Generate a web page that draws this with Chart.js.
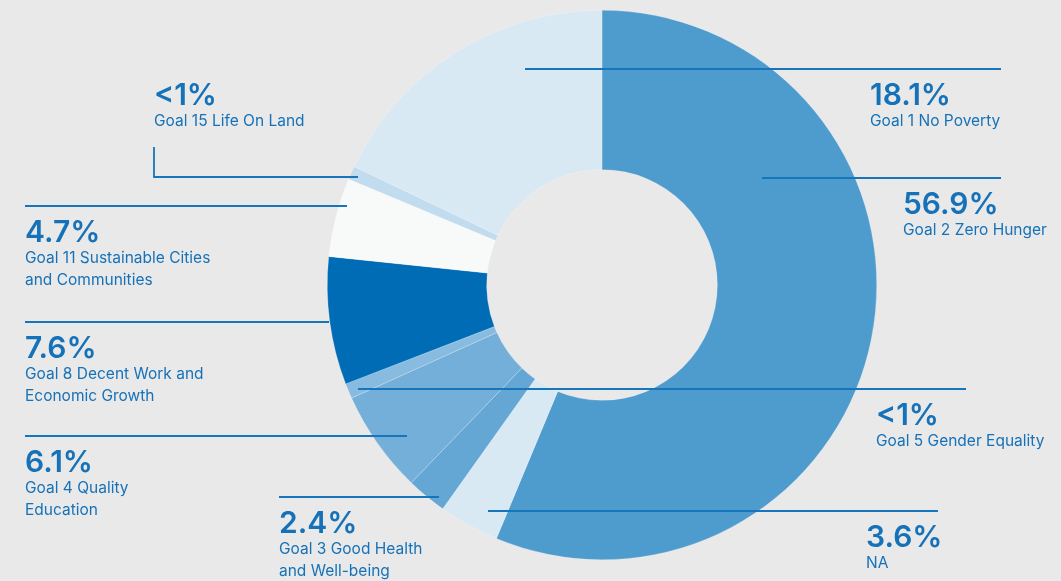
<!DOCTYPE html>
<html>
<head>
<meta charset="utf-8">
<script src="https://cdn.jsdelivr.net/npm/chart.js@4"></script>
<style>
  html, body { margin: 0; padding: 0; background: #e9e9e9; }
  #wrap { width: 1061px; height: 581px; position: relative; }
</style>
</head>
<body>
<div id="wrap"><canvas id="myChart"></canvas></div>
<script>
// data, clockwise from 12 o'clock
const categories = ['Goal 2', 'NA', 'Goal 3', 'Goal 4', 'Goal 5', 'Goal 8', 'Goal 11', 'Goal 15', 'Goal 1'];
const shares = [56.9, 3.6, 2.4, 6.1, 0.9, 7.6, 4.7, 0.8, 18.1];
const shareLabels = ['56.9%', '3.6%', '2.4%', '6.1%', '<1%', '7.6%', '4.7%', '<1%', '18.1%'];
const nameLines = [
  ['Goal 2 Zero Hunger'],
  ['NA'],
  ['Goal 3 Good Health', 'and Well-being'],
  ['Goal 4 Quality', 'Education'],
  ['Goal 5 Gender Equality'],
  ['Goal 8 Decent Work and', 'Economic Growth'],
  ['Goal 11 Sustainable Cities', 'and Communities'],
  ['Goal 15 Life On Land'],
  ['Goal 1 No Poverty']
];
const colors = ['#4e9bcd', '#d8e9f4', '#64a7d5', '#74afd9', '#88bbe0', '#006cb5', '#f8f9f9', '#c1dbef', '#d9e9f4'];

// callout layout (leader line path + text anchor)
const callouts = [
  { path: [[762, 178], [1001, 178]], x: 903, y: 178 },
  { path: [[488, 511], [938, 511]], x: 866, y: 511 },
  { path: [[279, 497], [439, 497]], x: 279, y: 497 },
  { path: [[25, 436], [407, 436]], x: 25, y: 436 },
  { path: [[358, 389], [966, 389]], x: 876, y: 389 },
  { path: [[25, 322], [329, 322]], x: 25, y: 322 },
  { path: [[25, 206], [347, 206]], x: 25, y: 206 },
  { path: [[154, 147], [154, 177], [358, 177]], x: 154, y: 69 },
  { path: [[525, 69], [1001, 69]], x: 870, y: 69 }
];

const BLUE = '#1672b8';

const calloutPlugin = {
  id: 'callouts',
  afterDraw(chart) {
    const ctx = chart.ctx;
    ctx.save();
    callouts.forEach((c, i) => {
      ctx.strokeStyle = '#1775bb';
      ctx.lineWidth = 1.8;
      ctx.beginPath();
      c.path.forEach((p, k) => k ? ctx.lineTo(p[0], p[1]) : ctx.moveTo(p[0], p[1]));
      ctx.stroke();

      ctx.fillStyle = BLUE;
      ctx.textBaseline = 'alphabetic';
      ctx.textAlign = 'left';
      ctx.font = '600 30px Inter';
      ctx.fillText(shareLabels[i], c.x, c.y + 36);
      ctx.font = '400 15.5px Inter';
      nameLines[i].forEach((t, k) => ctx.fillText(t, c.x, c.y + 57 + k * 22));
    });
    ctx.restore();
  }
};

new Chart(document.getElementById('myChart'), {
  type: 'doughnut',
  data: {
    labels: categories,
    datasets: [{
      data: shares,
      backgroundColor: colors,
      borderWidth: 0.6,
      borderColor: 'rgba(255,255,255,0.35)',
      hoverOffset: 0
    }]
  },
  options: {
    responsive: true,
    maintainAspectRatio: false,
    animation: false,
    cutout: '42%',
    layout: { padding: { left: 327, right: 184, top: 10, bottom: 21 } },
    plugins: {
      legend: { display: false },
      tooltip: { enabled: false }
    }
  },
  plugins: [calloutPlugin]
});
</script>
</body>
</html>
